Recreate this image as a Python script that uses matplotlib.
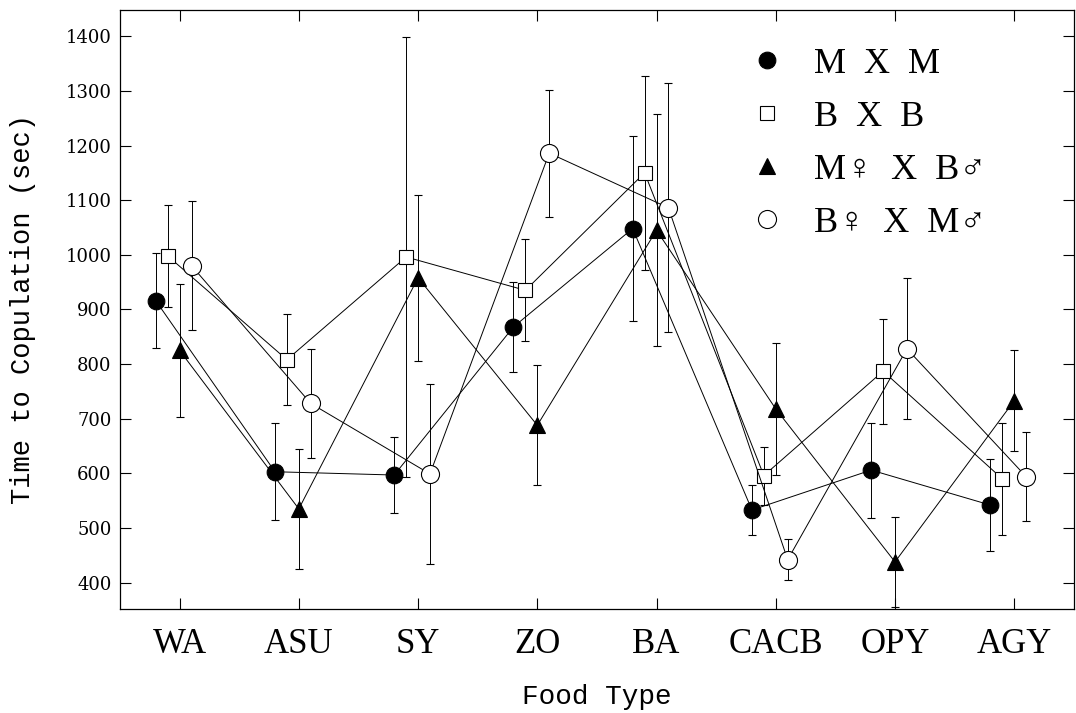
"""
time to copulation by food type, four cross types, mean +/- error
"""

import numpy as np
import matplotlib
matplotlib.use("Agg")
import matplotlib.pyplot as plt
from matplotlib.lines import Line2D

foods = ["WA", "ASU", "SY", "ZO", "BA", "CACB", "OPY", "AGY"]

mxm = [916, 603, 597, 868, 1048, 533, 606, 542]
mxm_err = [87, 89, 69, 82, 170, 45, 87, 84]

bxb = [998, 808, 996, 935, 1150, 596, 787, 590]
bxb_err = [93, 83, 402, 93, 178, 53, 96, 102]

mf_bm = [825, 535, 958, 688, 1045, 718, 438, 733]
mf_bm_err = [121, 110, 152, 110, 212, 121, 83, 92]

bf_mm = [980, 728, 599, 1186, 1086, 442, 828, 594]
bf_mm_err = [118, 100, 164, 116, 228, 38, 129, 81]

labels = ["M  X  M", "B  X  B", "M\u2640  X  B\u2642", "B\u2640  X  M\u2642"]

serif = ["Liberation Serif", "DejaVu Serif"]
mono = ["Liberation Mono", "DejaVu Sans Mono"]


def main():
    fig = plt.figure(figsize=(10.76, 7.13), dpi=100)
    ax = fig.add_axes([0.1115, 0.146, 0.8865, 0.840])

    x = np.arange(len(foods))
    series = [
        (mxm, mxm_err, -0.2, dict(marker="o", mfc="black", mec="black", ms=12)),
        (bxb, bxb_err, -0.1, dict(marker="s", mfc="white", mec="black", ms=10)),
        (mf_bm, mf_bm_err, 0.0, dict(marker="^", mfc="black", mec="black", ms=12)),
        (bf_mm, bf_mm_err, 0.1, dict(marker="o", mfc="white", mec="black", ms=13)),
    ]
    legend_elements = []
    for (vals, err, off, style), lab in zip(series, labels):
        ax.errorbar(
            x + off, vals, yerr=err,
            color="black", lw=0.7, elinewidth=0.7, capsize=3, capthick=0.7,
            mew=0.8, **style,
        )
        # marker only in legend
        legend_elements.append(Line2D([0], [0], ls="none", color="black", mew=0.8, label=lab, **style))

    ax.set_xlim(-0.5, 7.5)
    ax.set_ylim(352, 1448)
    ax.set_xticks(x)
    ax.set_xticklabels(foods, fontsize=25, family=serif)
    ax.set_yticks(np.arange(400, 1401, 100))
    for t in ax.get_yticklabels():
        t.set_family(["DejaVu Serif"])
        t.set_fontsize(13)
    ax.tick_params(direction="in", top=True, right=True, length=8, width=0.8)
    ax.tick_params(axis="x", pad=14)
    ax.tick_params(axis="y", pad=6)

    ax.set_xlabel("Food Type", fontsize=20, family=mono, labelpad=16)
    ax.set_ylabel("Time to Copulation (sec)", fontsize=19.5, family=mono, labelpad=21)

    for s in ax.spines.values():
        s.set_linewidth(0.9)

    ax.legend(
        handles=legend_elements, loc="upper left", bbox_to_anchor=(0.625, 0.992),
        frameon=False, prop={"family": serif, "size": 26},
        labelspacing=0.55, handletextpad=0.8, handlelength=1.0,
    )

    fig.savefig("out.png", dpi=100)


if __name__ == "__main__":
    main()
